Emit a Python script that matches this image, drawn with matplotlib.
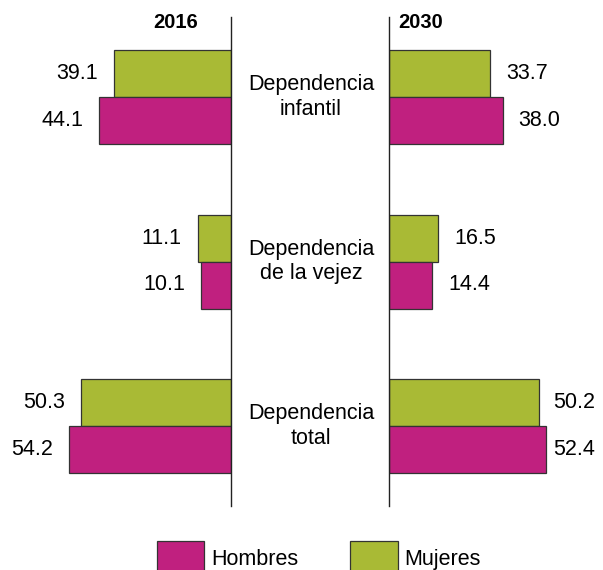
import matplotlib.pyplot as plt
import matplotlib.transforms as mtransforms
from matplotlib.patches import Patch

plt.rcParams['font.family'] = ['Liberation Sans', 'DejaVu Sans']

categories = ['Dependencia\ninfantil', 'Dependencia\nde la vejez', 'Dependencia\ntotal']
years = ['2016', '2030']
mujeres_2016 = [39.1, 11.1, 50.3]
hombres_2016 = [44.1, 10.1, 54.2]
mujeres_2030 = [33.7, 16.5, 50.2]
hombres_2030 = [38.0, 14.4, 52.4]

green = '#A9BA35'
magenta = '#C0207F'
fs = 15.5

W, H = 603, 570
fig = plt.figure(figsize=(W / 100, H / 100), dpi=100)

top, bottom = 17, 506
ax_l = fig.add_axes([0, 1 - bottom / H, 231 / W, (bottom - top) / H])
ax_r = fig.add_axes([389 / W, 1 - bottom / H, (W - 389) / W, (bottom - top) / H])

unit = 164.5
h = 47 / unit
ylim = (2 + (bottom - 426) / unit, -(97 - top) / unit)
pos = list(range(len(categories)))
px = 2.99  # pixels per unit
gap = 16 / px
right_max = (553 - 389) / px  # keep the last label inside the picture

for ax, muj, hom, side in [(ax_l, mujeres_2016, hombres_2016, -1),
                            (ax_r, mujeres_2030, hombres_2030, 1)]:
    ym = [p - h / 2 for p in pos]
    yh = [p + h / 2 for p in pos]
    ax.barh(ym, muj, height=h, color=green, edgecolor='#333333', linewidth=0.9)
    ax.barh(yh, hom, height=h, color=magenta, edgecolor='#333333', linewidth=0.9)
    for y, v in list(zip(ym, muj)) + list(zip(yh, hom)):
        if side > 0:
            ax.text(min(v + gap, right_max), y, f'{v:.1f}', ha='left', va='center', fontsize=fs)
        else:
            ax.text(v + gap, y, f'{v:.1f}', ha='right', va='center', fontsize=fs)
    ax.set_ylim(*ylim)
    ax.set_xticks([])
    ax.set_yticks([])
    for s in ['top', 'bottom', 'left', 'right']:
        ax.spines[s].set_visible(False)
    ax.set_facecolor('none')

ax_l.set_xlim(231 / px, 0)
ax_r.set_xlim(0, (W - 389) / px)
ax_l.spines['right'].set_visible(True)
ax_r.spines['left'].set_visible(True)
for ax in (ax_l, ax_r):
    for s in ax.spines.values():
        s.set_linewidth(1.0)
        s.set_color('#222222')

trans = mtransforms.blended_transform_factory(fig.transFigure, ax_l.transData)
for p, cat in zip(pos, categories):
    fig.text(311 / W, p, cat, transform=trans, ha='center', va='center',
             fontsize=fs, linespacing=1.2)

fig.text(176 / W, 1 - 22 / H, years[0], ha='center', va='center', fontsize=14.5, fontweight='bold')
fig.text(421 / W, 1 - 22 / H, years[1], ha='center', va='center', fontsize=14.5, fontweight='bold')

handles = [Patch(facecolor=magenta, edgecolor='#333333', linewidth=0.9),
           Patch(facecolor=green, edgecolor='#333333', linewidth=0.9)]
fig.legend(handles, ['Hombres', 'Mujeres'], loc='upper left',
           bbox_to_anchor=(157 / W, 1 - 541 / H), ncol=2, frameon=False,
           borderpad=0, borderaxespad=0, handlelength=2.2, handleheight=2.1,
           handletextpad=0.33, columnspacing=2.4, fontsize=fs)

fig.savefig('out.png', dpi=100)
